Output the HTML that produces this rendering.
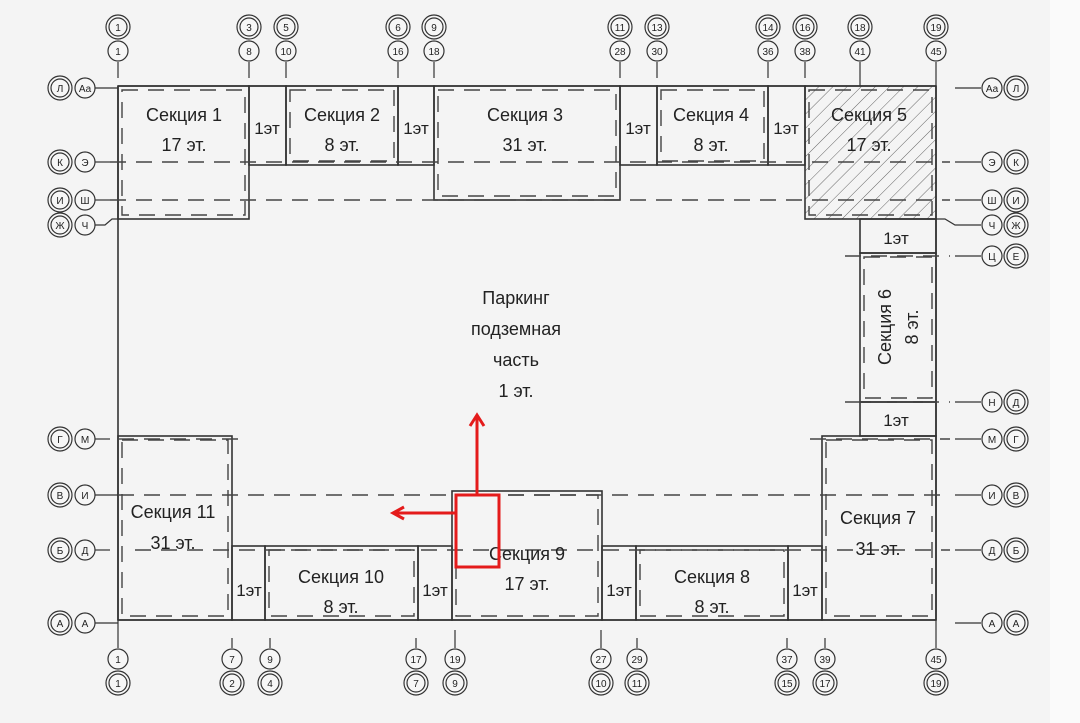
<!DOCTYPE html>
<html><head><meta charset="utf-8"><style>
html,body{margin:0;padding:0;background:#f4f4f4;}
svg{display:block}
text{font-family:"Liberation Sans Narrow","Liberation Sans","DejaVu Sans",sans-serif;fill:#222;}
.s{stroke:#333;stroke-width:1.6;fill:none}
.d{stroke:#444;stroke-width:1.4;fill:none;stroke-dasharray:16 10}
.c{stroke:#333;stroke-width:1.2;fill:#f6f6f6}
.t{font-size:18px;text-anchor:middle}
.e{font-size:17px;text-anchor:middle}
.b{font-size:10px;text-anchor:middle}
</style></head><body>
<svg width="1080" height="723" viewBox="0 0 1080 723" xmlns="http://www.w3.org/2000/svg">
<defs>
<pattern id="h" width="10" height="10" patternUnits="userSpaceOnUse" patternTransform="rotate(45)">
<line x1="0" y1="0" x2="0" y2="10" stroke="#666" stroke-width="1"/></pattern>
</defs>
<rect width="1080" height="723" fill="#f4f4f4"/>
<rect x="1050" y="0" width="30" height="723" fill="#fafafa"/>

<!-- hatched section 5 -->
<rect x="805" y="86" width="131" height="133" fill="url(#h)"/>

<!-- outer frame -->
<line class="s" x1="118" y1="86" x2="936" y2="86"/>
<line class="s" x1="118" y1="86" x2="118" y2="620"/>
<line class="s" x1="936" y1="86" x2="936" y2="620"/>
<line class="s" x1="118" y1="620" x2="936" y2="620"/>

<!-- top sections -->
<rect class="s" x="118" y="86" width="131" height="133"/>
<rect class="s" x="249" y="86" width="37" height="79"/>
<rect class="s" x="286" y="86" width="112" height="79"/>
<rect class="s" x="398" y="86" width="36" height="79"/>
<rect class="s" x="434" y="86" width="186" height="114"/>
<rect class="s" x="620" y="86" width="37" height="79"/>
<rect class="s" x="657" y="86" width="111" height="79"/>
<rect class="s" x="768" y="86" width="37" height="79"/>
<rect class="s" x="805" y="86" width="131" height="133"/>
<!-- right column -->
<rect class="s" x="860" y="219" width="76" height="34"/>
<rect class="s" x="860" y="253" width="76" height="149"/>
<rect class="s" x="860" y="402" width="76" height="34"/>
<rect class="s" x="822" y="436" width="114" height="184"/>
<!-- bottom -->
<rect class="s" x="118" y="436" width="114" height="184"/>
<rect class="s" x="232" y="546" width="33" height="74"/>
<rect class="s" x="265" y="546" width="153" height="74"/>
<rect class="s" x="418" y="546" width="34" height="74"/>
<rect class="s" x="452" y="491" width="150" height="129"/>
<rect class="s" x="602" y="546" width="34" height="74"/>
<rect class="s" x="636" y="546" width="152" height="74"/>
<rect class="s" x="788" y="546" width="34" height="74"/>

<!-- dashed inner outlines -->
<rect class="d" x="122" y="90" width="123" height="125"/>
<rect class="d" x="290" y="90" width="104" height="71"/>
<rect class="d" x="438" y="90" width="178" height="106"/>
<rect class="d" x="661" y="90" width="103" height="71"/>
<rect class="d" x="809" y="90" width="123" height="125"/>
<rect class="d" x="864" y="257" width="68" height="141"/>
<rect class="d" x="826" y="440" width="106" height="176"/>
<rect class="d" x="122" y="440" width="106" height="176"/>
<rect class="d" x="269" y="550" width="145" height="66"/>
<rect class="d" x="456" y="495" width="142" height="121"/>
<rect class="d" x="640" y="550" width="144" height="66"/>
<!-- dashed gridlines -->
<line class="d" x1="110" y1="162" x2="950" y2="162"/>
<line class="d" x1="110" y1="200" x2="950" y2="200"/>
<line class="d" x1="845" y1="256" x2="950" y2="256"/>
<line class="d" x1="845" y1="402" x2="950" y2="402"/>
<line class="d" x1="118" y1="439" x2="240" y2="439"/>
<line class="d" x1="810" y1="439" x2="950" y2="439"/>
<line class="d" x1="118" y1="495" x2="950" y2="495"/>
<line class="d" x1="135" y1="550" x2="950" y2="550"/>

<!-- axis ticks top -->
<g stroke="#333" stroke-width="1.2">
<line x1="118" y1="62" x2="118" y2="78"/><line x1="249" y1="62" x2="249" y2="78"/><line x1="286" y1="62" x2="286" y2="78"/>
<line x1="398" y1="62" x2="398" y2="78"/><line x1="434" y1="62" x2="434" y2="78"/><line x1="620" y1="62" x2="620" y2="78"/>
<line x1="657" y1="62" x2="657" y2="78"/><line x1="768" y1="62" x2="768" y2="78"/><line x1="805" y1="62" x2="805" y2="78"/>
<line x1="860" y1="62" x2="860" y2="86"/><line x1="936" y1="62" x2="936" y2="86"/>
<!-- bottom -->
<line x1="118" y1="620" x2="118" y2="648"/><line x1="232" y1="638" x2="232" y2="648"/><line x1="270" y1="638" x2="270" y2="648"/>
<line x1="416" y1="638" x2="416" y2="648"/><line x1="455" y1="630" x2="455" y2="648"/><line x1="601" y1="630" x2="601" y2="648"/>
<line x1="637" y1="638" x2="637" y2="648"/><line x1="787" y1="638" x2="787" y2="648"/><line x1="825" y1="638" x2="825" y2="648"/>
<line x1="936" y1="620" x2="936" y2="648"/>
<!-- left -->
<line x1="95" y1="88" x2="118" y2="88"/><line x1="95" y1="162" x2="110" y2="162"/><line x1="95" y1="200" x2="110" y2="200"/>
<path d="M95 225 L105 225 L112 219 L118 219" fill="none"/>
<line x1="95" y1="439" x2="110" y2="439"/><line x1="95" y1="495" x2="118" y2="495"/><line x1="95" y1="550" x2="110" y2="550"/><line x1="95" y1="623" x2="118" y2="623"/>
<!-- right -->
<line x1="955" y1="88" x2="981" y2="88"/><line x1="955" y1="162" x2="981" y2="162"/><line x1="955" y1="200" x2="981" y2="200"/>
<path d="M936 219 L945 219 L955 225 L981 225" fill="none"/>
<line x1="955" y1="256" x2="981" y2="256"/><line x1="955" y1="402" x2="981" y2="402"/><line x1="955" y1="439" x2="981" y2="439"/>
<line x1="955" y1="495" x2="981" y2="495"/><line x1="955" y1="550" x2="981" y2="550"/><line x1="955" y1="623" x2="981" y2="623"/>
</g>

<!-- top bubbles -->
<g>
<circle class="c" cx="118" cy="27" r="12"/><circle class="c" cx="118" cy="27" r="9"/><text class="b" x="118" y="31">1</text>
<circle class="c" cx="118" cy="51" r="10"/><text class="b" x="118" y="55">1</text>
<circle class="c" cx="249" cy="27" r="12"/><circle class="c" cx="249" cy="27" r="9"/><text class="b" x="249" y="31">3</text>
<circle class="c" cx="249" cy="51" r="10"/><text class="b" x="249" y="55">8</text>
<circle class="c" cx="286" cy="27" r="12"/><circle class="c" cx="286" cy="27" r="9"/><text class="b" x="286" y="31">5</text>
<circle class="c" cx="286" cy="51" r="10"/><text class="b" x="286" y="55">10</text>
<circle class="c" cx="398" cy="27" r="12"/><circle class="c" cx="398" cy="27" r="9"/><text class="b" x="398" y="31">6</text>
<circle class="c" cx="398" cy="51" r="10"/><text class="b" x="398" y="55">16</text>
<circle class="c" cx="434" cy="27" r="12"/><circle class="c" cx="434" cy="27" r="9"/><text class="b" x="434" y="31">9</text>
<circle class="c" cx="434" cy="51" r="10"/><text class="b" x="434" y="55">18</text>
<circle class="c" cx="620" cy="27" r="12"/><circle class="c" cx="620" cy="27" r="9"/><text class="b" x="620" y="31">11</text>
<circle class="c" cx="620" cy="51" r="10"/><text class="b" x="620" y="55">28</text>
<circle class="c" cx="657" cy="27" r="12"/><circle class="c" cx="657" cy="27" r="9"/><text class="b" x="657" y="31">13</text>
<circle class="c" cx="657" cy="51" r="10"/><text class="b" x="657" y="55">30</text>
<circle class="c" cx="768" cy="27" r="12"/><circle class="c" cx="768" cy="27" r="9"/><text class="b" x="768" y="31">14</text>
<circle class="c" cx="768" cy="51" r="10"/><text class="b" x="768" y="55">36</text>
<circle class="c" cx="805" cy="27" r="12"/><circle class="c" cx="805" cy="27" r="9"/><text class="b" x="805" y="31">16</text>
<circle class="c" cx="805" cy="51" r="10"/><text class="b" x="805" y="55">38</text>
<circle class="c" cx="860" cy="27" r="12"/><circle class="c" cx="860" cy="27" r="9"/><text class="b" x="860" y="31">18</text>
<circle class="c" cx="860" cy="51" r="10"/><text class="b" x="860" y="55">41</text>
<circle class="c" cx="936" cy="27" r="12"/><circle class="c" cx="936" cy="27" r="9"/><text class="b" x="936" y="31">19</text>
<circle class="c" cx="936" cy="51" r="10"/><text class="b" x="936" y="55">45</text>
</g>
<!-- bottom bubbles -->
<g>
<circle class="c" cx="118" cy="659" r="10"/><text class="b" x="118" y="663">1</text>
<circle class="c" cx="118" cy="683" r="12"/><circle class="c" cx="118" cy="683" r="9"/><text class="b" x="118" y="687">1</text>
<circle class="c" cx="232" cy="659" r="10"/><text class="b" x="232" y="663">7</text>
<circle class="c" cx="232" cy="683" r="12"/><circle class="c" cx="232" cy="683" r="9"/><text class="b" x="232" y="687">2</text>
<circle class="c" cx="270" cy="659" r="10"/><text class="b" x="270" y="663">9</text>
<circle class="c" cx="270" cy="683" r="12"/><circle class="c" cx="270" cy="683" r="9"/><text class="b" x="270" y="687">4</text>
<circle class="c" cx="416" cy="659" r="10"/><text class="b" x="416" y="663">17</text>
<circle class="c" cx="416" cy="683" r="12"/><circle class="c" cx="416" cy="683" r="9"/><text class="b" x="416" y="687">7</text>
<circle class="c" cx="455" cy="659" r="10"/><text class="b" x="455" y="663">19</text>
<circle class="c" cx="455" cy="683" r="12"/><circle class="c" cx="455" cy="683" r="9"/><text class="b" x="455" y="687">9</text>
<circle class="c" cx="601" cy="659" r="10"/><text class="b" x="601" y="663">27</text>
<circle class="c" cx="601" cy="683" r="12"/><circle class="c" cx="601" cy="683" r="9"/><text class="b" x="601" y="687">10</text>
<circle class="c" cx="637" cy="659" r="10"/><text class="b" x="637" y="663">29</text>
<circle class="c" cx="637" cy="683" r="12"/><circle class="c" cx="637" cy="683" r="9"/><text class="b" x="637" y="687">11</text>
<circle class="c" cx="787" cy="659" r="10"/><text class="b" x="787" y="663">37</text>
<circle class="c" cx="787" cy="683" r="12"/><circle class="c" cx="787" cy="683" r="9"/><text class="b" x="787" y="687">15</text>
<circle class="c" cx="825" cy="659" r="10"/><text class="b" x="825" y="663">39</text>
<circle class="c" cx="825" cy="683" r="12"/><circle class="c" cx="825" cy="683" r="9"/><text class="b" x="825" y="687">17</text>
<circle class="c" cx="936" cy="659" r="10"/><text class="b" x="936" y="663">45</text>
<circle class="c" cx="936" cy="683" r="12"/><circle class="c" cx="936" cy="683" r="9"/><text class="b" x="936" y="687">19</text>
</g>
<!-- left bubbles -->
<g>
<circle class="c" cx="60" cy="88" r="12"/><circle class="c" cx="60" cy="88" r="9"/><text class="b" x="60" y="92">Л</text>
<circle class="c" cx="85" cy="88" r="10"/><text class="b" x="85" y="92">Аа</text>
<circle class="c" cx="60" cy="162" r="12"/><circle class="c" cx="60" cy="162" r="9"/><text class="b" x="60" y="166">К</text>
<circle class="c" cx="85" cy="162" r="10"/><text class="b" x="85" y="166">Э</text>
<circle class="c" cx="60" cy="200" r="12"/><circle class="c" cx="60" cy="200" r="9"/><text class="b" x="60" y="204">И</text>
<circle class="c" cx="85" cy="200" r="10"/><text class="b" x="85" y="204">Ш</text>
<circle class="c" cx="60" cy="225" r="12"/><circle class="c" cx="60" cy="225" r="9"/><text class="b" x="60" y="229">Ж</text>
<circle class="c" cx="85" cy="225" r="10"/><text class="b" x="85" y="229">Ч</text>
<circle class="c" cx="60" cy="439" r="12"/><circle class="c" cx="60" cy="439" r="9"/><text class="b" x="60" y="443">Г</text>
<circle class="c" cx="85" cy="439" r="10"/><text class="b" x="85" y="443">М</text>
<circle class="c" cx="60" cy="495" r="12"/><circle class="c" cx="60" cy="495" r="9"/><text class="b" x="60" y="499">В</text>
<circle class="c" cx="85" cy="495" r="10"/><text class="b" x="85" y="499">И</text>
<circle class="c" cx="60" cy="550" r="12"/><circle class="c" cx="60" cy="550" r="9"/><text class="b" x="60" y="554">Б</text>
<circle class="c" cx="85" cy="550" r="10"/><text class="b" x="85" y="554">Д</text>
<circle class="c" cx="60" cy="623" r="12"/><circle class="c" cx="60" cy="623" r="9"/><text class="b" x="60" y="627">А</text>
<circle class="c" cx="85" cy="623" r="10"/><text class="b" x="85" y="627">А</text>
</g>
<!-- right bubbles -->
<g>
<circle class="c" cx="992" cy="88" r="10"/><text class="b" x="992" y="92">Аа</text>
<circle class="c" cx="1016" cy="88" r="12"/><circle class="c" cx="1016" cy="88" r="9"/><text class="b" x="1016" y="92">Л</text>
<circle class="c" cx="992" cy="162" r="10"/><text class="b" x="992" y="166">Э</text>
<circle class="c" cx="1016" cy="162" r="12"/><circle class="c" cx="1016" cy="162" r="9"/><text class="b" x="1016" y="166">К</text>
<circle class="c" cx="992" cy="200" r="10"/><text class="b" x="992" y="204">Ш</text>
<circle class="c" cx="1016" cy="200" r="12"/><circle class="c" cx="1016" cy="200" r="9"/><text class="b" x="1016" y="204">И</text>
<circle class="c" cx="992" cy="225" r="10"/><text class="b" x="992" y="229">Ч</text>
<circle class="c" cx="1016" cy="225" r="12"/><circle class="c" cx="1016" cy="225" r="9"/><text class="b" x="1016" y="229">Ж</text>
<circle class="c" cx="992" cy="256" r="10"/><text class="b" x="992" y="260">Ц</text>
<circle class="c" cx="1016" cy="256" r="12"/><circle class="c" cx="1016" cy="256" r="9"/><text class="b" x="1016" y="260">Е</text>
<circle class="c" cx="992" cy="402" r="10"/><text class="b" x="992" y="406">Н</text>
<circle class="c" cx="1016" cy="402" r="12"/><circle class="c" cx="1016" cy="402" r="9"/><text class="b" x="1016" y="406">Д</text>
<circle class="c" cx="992" cy="439" r="10"/><text class="b" x="992" y="443">М</text>
<circle class="c" cx="1016" cy="439" r="12"/><circle class="c" cx="1016" cy="439" r="9"/><text class="b" x="1016" y="443">Г</text>
<circle class="c" cx="992" cy="495" r="10"/><text class="b" x="992" y="499">И</text>
<circle class="c" cx="1016" cy="495" r="12"/><circle class="c" cx="1016" cy="495" r="9"/><text class="b" x="1016" y="499">В</text>
<circle class="c" cx="992" cy="550" r="10"/><text class="b" x="992" y="554">Д</text>
<circle class="c" cx="1016" cy="550" r="12"/><circle class="c" cx="1016" cy="550" r="9"/><text class="b" x="1016" y="554">Б</text>
<circle class="c" cx="992" cy="623" r="10"/><text class="b" x="992" y="627">А</text>
<circle class="c" cx="1016" cy="623" r="12"/><circle class="c" cx="1016" cy="623" r="9"/><text class="b" x="1016" y="627">А</text>
</g>

<!-- labels -->
<text class="t" x="184" y="121">Секция 1</text><text class="t" x="184" y="151">17 эт.</text>
<text class="e" x="267" y="134">1эт</text>
<text class="t" x="342" y="121">Секция 2</text><text class="t" x="342" y="151">8 эт.</text>
<text class="e" x="416" y="134">1эт</text>
<text class="t" x="525" y="121">Секция 3</text><text class="t" x="525" y="151">31 эт.</text>
<text class="e" x="638" y="134">1эт</text>
<text class="t" x="711" y="121">Секция 4</text><text class="t" x="711" y="151">8 эт.</text>
<text class="e" x="786" y="134">1эт</text>
<text class="t" x="869" y="121">Секция 5</text><text class="t" x="869" y="151">17 эт.</text>
<text class="e" x="896" y="244">1эт</text>
<text class="t" transform="translate(891,327) rotate(-90)" x="0" y="0">Секция 6</text>
<text class="t" transform="translate(918,327) rotate(-90)" x="0" y="0">8 эт.</text>
<text class="e" x="896" y="426">1эт</text>
<text class="t" x="878" y="524">Секция 7</text><text class="t" x="878" y="555">31 эт.</text>
<text class="t" x="712" y="583">Секция 8</text><text class="t" x="712" y="613">8 эт.</text>
<text class="e" x="805" y="596">1эт</text>
<text class="e" x="619" y="596">1эт</text>
<text class="t" x="527" y="560">Секция 9</text><text class="t" x="527" y="590">17 эт.</text>
<text class="e" x="435" y="596">1эт</text>
<text class="t" x="341" y="583">Секция 10</text><text class="t" x="341" y="613">8 эт.</text>
<text class="e" x="249" y="596">1эт</text>
<text class="t" x="173" y="518">Секция 11</text><text class="t" x="173" y="549">31 эт.</text>
<text class="t" x="516" y="304">Паркинг</text>
<text class="t" x="516" y="335">подземная</text>
<text class="t" x="516" y="366">часть</text>
<text class="t" x="516" y="397">1 эт.</text>

<!-- red marker -->
<g stroke="#e41b1b" stroke-width="3" fill="none">
<rect x="456" y="495" width="43" height="72"/>
<line x1="477" y1="495" x2="477" y2="416"/>
<polyline points="470,426 477,415 484,426"/>
<line x1="456" y1="513" x2="394" y2="513"/>
<polyline points="404,507 393,513 404,519"/>
</g>
</svg>
</body></html>
